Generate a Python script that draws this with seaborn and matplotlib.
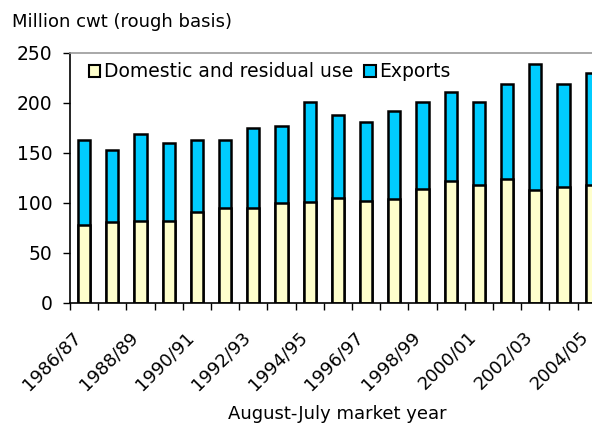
"""
Rice use: domestic and residual use vs exports, stacked bars.
"""

import matplotlib
matplotlib.use('Agg')
import matplotlib.pyplot as plt
import pandas as pd
import seaborn as sns
from matplotlib.patches import Patch
from matplotlib.ticker import FixedLocator
from matplotlib.transforms import ScaledTranslation

years = ['1986/87', '1987/88', '1988/89', '1989/90', '1990/91', '1991/92',
         '1992/93', '1993/94', '1994/95', '1995/96', '1996/97', '1997/98',
         '1998/99', '1999/00', '2000/01', '2001/02', '2002/03', '2003/04',
         '2004/05']
domestic = [78, 80.5, 82, 82, 90.5, 95, 94.5, 99.5, 101, 104.5, 101.5, 104,
            114, 122, 118, 124, 113, 116, 118]
exports = [84.5, 72.5, 86.5, 77.5, 72.5, 67.5, 80, 77.5, 99.5, 83.5, 79, 88,
           87, 89, 83, 94.5, 125.5, 102.5, 111.5]

df = pd.DataFrame({'year': years, 'domestic': domestic, 'exports': exports})
df['total'] = df['domestic'] + df['exports']

sns.set_theme(style='white')
# the original text is wide; DejaVu Sans fits its widths best
plt.rcParams['font.family'] = ['DejaVu Sans']
plt.rcParams['text.color'] = 'black'
plt.rcParams['xtick.color'] = 'black'
plt.rcParams['ytick.color'] = 'black'

fig = plt.figure(figsize=(5.92, 4.24), dpi=100)
# axes run past the right edge, like the cropped original
ax = fig.add_axes([70 / 592, 121.5 / 424, 19 * 28.2 / 592, 249.5 / 424])

blue = '#00CCFF'
yellow = '#FFFFCC'
sns.barplot(data=df, x='year', y='total', color=blue, width=0.43,
            edgecolor='black', linewidth=1.8, saturation=1, ax=ax)
sns.barplot(data=df, x='year', y='domestic', color=yellow, width=0.43,
            edgecolor='black', linewidth=1.8, saturation=1, ax=ax)

ax.set_xlim(-0.5, len(years) - 0.5)
ax.set_ylim(0, 250)
ax.set_yticks([0, 50, 100, 150, 200, 250])
ax.tick_params(axis='y', labelsize=13.5, length=5, width=1, direction='out',
               left=True, pad=7.5, colors='black')

# labels on every other category, tick marks between categories
ax.set_xticks(range(0, len(years), 2))
ax.set_xticklabels(years[::2], rotation=45, ha='right', va='top',
                   rotation_mode='anchor', fontsize=13, color='black')
ax.tick_params(axis='x', which='major', length=0, pad=18.3)
shift = ScaledTranslation(-12 / 100, 0, fig.dpi_scale_trans)
for lab in ax.get_xticklabels():
    lab.set_transform(lab.get_transform() + shift)
ax.xaxis.set_minor_locator(FixedLocator([i - 0.5 for i in range(len(years) + 1)]))
ax.tick_params(axis='x', which='minor', length=5, width=1, direction='out',
               bottom=True, color='black')

ax.set_xlabel('')
ax.set_ylabel('')
for side in ['left', 'bottom']:
    ax.spines[side].set_color('black')
    ax.spines[side].set_linewidth(1.2)
ax.spines['top'].set_color('#999999')
ax.spines['top'].set_linewidth(1.2)
ax.spines['right'].set_visible(False)

handles = [Patch(facecolor=yellow, edgecolor='black', linewidth=1.5,
                 label='Domestic and residual use'),
           Patch(facecolor=blue, edgecolor='black', linewidth=1.5,
                 label='Exports')]
ax.legend(handles=handles, loc='center left', bbox_to_anchor=(0.035, 0.925),
          ncol=2, frameon=False, fontsize=13.5, handlelength=0.6,
          handleheight=0.6, handletextpad=0.2, columnspacing=0.6,
          borderpad=0, borderaxespad=0, labelcolor='black')

fig.text(12 / 592, 1 - 22 / 424, 'Million cwt (rough basis)', fontsize=13,
         va='center', ha='left', color='black')
fig.text(337 / 592, 1 - 414 / 424, 'August-July market year', fontsize=13,
         va='center', ha='center', color='black')

plt.savefig('out.png', dpi=100)
plt.close()
